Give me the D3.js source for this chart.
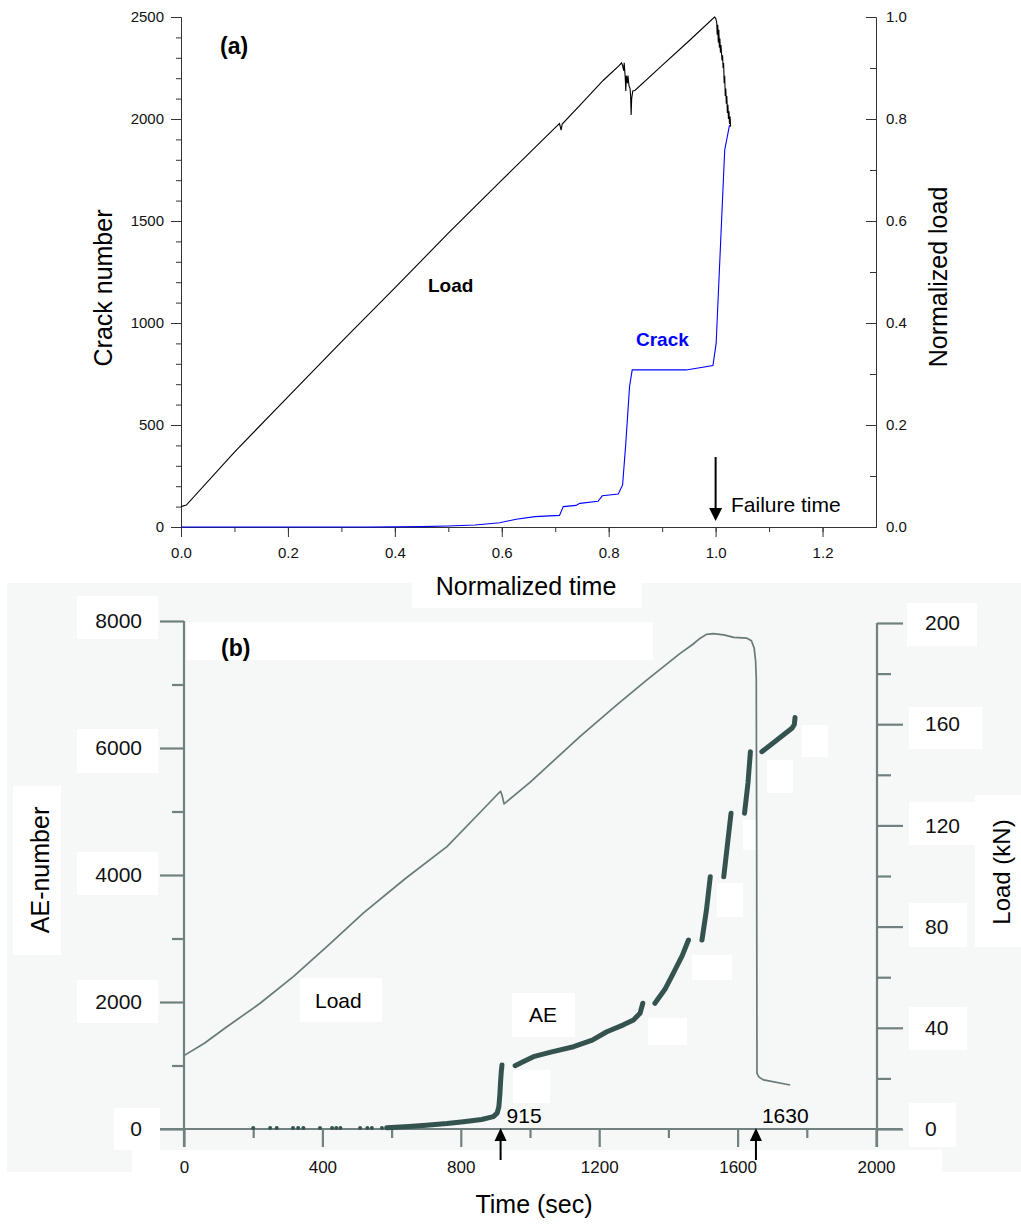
<!DOCTYPE html>
<html>
<head>
<meta charset="utf-8">
<script src="https://cdn.jsdelivr.net/npm/d3@7/dist/d3.min.js"></script>
<style>
  body { margin: 0; background: #fff; }
  svg { display: block; font-family: Arial, "Liberation Sans", sans-serif; }
</style>
</head>
<body>
<div id="chart"></div>
<script>
// ---- panel (a) data: normalized time vs normalized load / crack number ----
var loadA_t = [0, 0.01, 0.1, 0.2, 0.3, 0.4, 0.5, 0.6, 0.7, 0.708, 0.711, 0.713, 0.75, 0.79, 0.82, 0.824,
  0.826, 0.828, 0.829, 0.831, 0.832, 0.833, 0.835, 0.836, 0.838, 0.84, 0.841, 0.842, 0.843, 0.845, 0.849,
  0.9, 0.95, 0.998, 1.0, 1.002, 1.003, 1.004, 1.005, 1.006, 1.007, 1.008, 1.009, 1.01, 1.012, 1.013, 1.014,
  1.015, 1.016, 1.017, 1.018, 1.019, 1.02, 1.021, 1.022, 1.023, 1.024, 1.025, 1.026, 1.027, 1.028];
var loadA_v = [0.04, 0.043, 0.147, 0.255, 0.363, 0.469, 0.576, 0.68, 0.783, 0.791, 0.778, 0.79, 0.831, 0.876, 0.905, 0.91,
  0.905, 0.895, 0.91, 0.88, 0.855, 0.885, 0.87, 0.885, 0.865, 0.86, 0.845, 0.808, 0.84, 0.855, 0.856,
  0.905, 0.953, 1.0, 0.998, 0.99, 0.965, 0.985, 0.95, 0.975, 0.94, 0.958, 0.93, 0.945, 0.915, 0.925, 0.9,
  0.91, 0.87, 0.885, 0.845, 0.86, 0.83, 0.845, 0.812, 0.828, 0.8, 0.815, 0.79, 0.805, 0.785];
var crackA_t = [0, 0.35, 0.45, 0.5, 0.55, 0.596, 0.627, 0.662, 0.708, 0.715, 0.739, 0.746, 0.78, 0.788,
  0.818, 0.826, 0.832, 0.839, 0.844, 0.945, 0.995, 1.001, 1.017, 1.026];
var crackA_n = [0, 0, 2, 5, 10, 21, 38, 51, 57, 100, 106, 116, 126, 153,
  162, 206, 410, 688, 770, 770, 791, 900, 1848, 1970];
var xTicksA = [0, 0.2, 0.4, 0.6, 0.8, 1.0, 1.2];
var yTicksA = [0, 500, 1000, 1500, 2000, 2500];
var y2TicksA = [0, 0.2, 0.4, 0.6, 0.8, 1.0];

// ---- panel (b) data: time (sec) vs AE-number / load (kN) ----
var loadB_t = [0, 60, 120, 220, 316, 420, 518, 640, 760, 850, 909, 915, 919, 925, 933, 1000, 1145, 1250,
  1338, 1434, 1470, 1492, 1510, 1530, 1560, 1589, 1627, 1640, 1648, 1652, 1654, 1655, 1656, 1662, 1675, 1752];
var loadB_kN = [29, 34, 40, 49.7, 60.2, 73, 85.3, 99, 111.6, 124.3, 132.7, 133.5, 132, 128.5, 129.4, 137, 155.2, 167.5,
  177.5, 188, 191.5, 194, 195.5, 195.8, 195.3, 194.3, 194, 193, 190, 185, 178, 120, 22, 20.5, 19.4, 17.4];
var aeSegments = [
  [[586, 20], [650, 40], [700, 60], [760, 85], [808, 115], [860, 150], [894, 194], [905, 250], [910, 350], [913, 550], [915, 750], [917, 900], [919, 1008]],
  [[957, 997], [980, 1060], [1010, 1139], [1060, 1210], [1126, 1296], [1180, 1400], [1222, 1532], [1270, 1640], [1299, 1717], [1318, 1822], [1326, 1980]],
  [[1361, 1980], [1390, 2200], [1414, 2452], [1440, 2730], [1458, 2976]],
  [[1497, 2976], [1510, 3450], [1521, 3973]],
  [[1560, 3973], [1570, 4450], [1581, 4972]],
  [[1620, 4972], [1630, 5450], [1637, 5942]],
  [[1670, 5942], [1710, 6110], [1757, 6310], [1764, 6370], [1766, 6480]]
];
var aeDots = [200, 249, 268, 315, 330, 345, 393, 428, 440, 452, 509, 530, 543, 572];
var xTicksB = [0, 400, 800, 1200, 1600, 2000];
var yTicksB = [0, 2000, 4000, 6000, 8000];
var y2TicksB = [0, 40, 80, 120, 160, 200];
var arrowsB = [{t: 915, label: "915"}, {t: 1653, label: "1630"}];

var W = 1021, H = 1225;
var svg = d3.select("#chart").append("svg").attr("width", W).attr("height", H);
var fmtInt = d3.format("d");

// ================= panel (a) =================
var xA = d3.scaleLinear().domain([0, 1.3]).range([181, 876]);
var yA = d3.scaleLinear().domain([0, 2500]).range([527, 17]);
var yA2 = d3.scaleLinear().domain([0, 1]).range([527, 17]);
var axA = "#333";

function styleAxis(g, color, width, fs) {
  g.selectAll("path, line").attr("stroke", color).attr("stroke-width", width);
  g.selectAll("text").attr("fill", "#111").style("font-size", fs + "px").style("font-family", "Arial, 'Liberation Sans', sans-serif");
}

var gA = svg.append("g");
gA.append("g").attr("transform", "translate(181,0)")
  .call(d3.axisLeft(yA).tickValues(d3.range(0, 2501, 100)).tickSize(5).tickFormat("").tickSizeOuter(0))
  .call(g => styleAxis(g, axA, 1, 15));
gA.append("g").attr("transform", "translate(181,0)")
  .call(d3.axisLeft(yA).tickValues(yTicksA).tickSize(10).tickPadding(7).tickFormat(fmtInt).tickSizeOuter(0))
  .call(g => styleAxis(g, axA, 1, 15));
gA.append("g").attr("transform", "translate(0,527)")
  .call(d3.axisBottom(xA).tickValues(d3.range(0, 13).map(d => d / 10)).tickSize(5).tickFormat("").tickSizeOuter(0))
  .call(g => styleAxis(g, axA, 1, 15));
gA.append("g").attr("transform", "translate(0,527)")
  .call(d3.axisBottom(xA).tickValues(xTicksA).tickSize(10).tickPadding(10).tickFormat(d3.format(".1f")).tickSizeOuter(0))
  .call(g => styleAxis(g, axA, 1, 15));
gA.append("g").attr("transform", "translate(876,0)")
  .call(d3.axisRight(yA2).tickValues(d3.range(0, 11).map(d => d / 10)).tickSize(-6).tickFormat("").tickSizeOuter(0))
  .call(g => styleAxis(g, axA, 1, 15));
gA.append("g").attr("transform", "translate(876,0)")
  .call(d3.axisRight(yA2).tickValues(y2TicksA).tickSize(-10).tickPadding(10).tickFormat(d3.format(".1f")).tickSizeOuter(0))
  .call(g => styleAxis(g, axA, 1, 15));

var lineA = d3.line().x(d => xA(d[0])).y(d => yA2(d[1]));
gA.append("path").datum(loadA_t.map((t, i) => [t, loadA_v[i]]))
  .attr("d", lineA).attr("fill", "none").attr("stroke", "#000").attr("stroke-width", 1.1);
var crackLine = d3.line().x(d => xA(d[0])).y(d => yA(d[1]));
gA.append("path").datum(crackA_t.map((t, i) => [t, crackA_n[i]]))
  .attr("d", crackLine).attr("fill", "none").attr("stroke", "#0000ff").attr("stroke-width", 1.1);

gA.append("text").attr("x", 220).attr("y", 54).attr("font-weight", "bold").attr("font-size", 23).text("(a)");
gA.append("text").attr("x", 428).attr("y", 292).attr("font-weight", "bold").attr("font-size", 19).text("Load");
gA.append("text").attr("x", 636).attr("y", 346).attr("font-weight", "bold").attr("font-size", 19).attr("fill", "#0000ff").text("Crack");
gA.append("text").attr("x", 731).attr("y", 512).attr("font-size", 21).text("Failure time");
// failure arrow
var fx = xA(1.0);
gA.append("line").attr("x1", fx).attr("x2", fx).attr("y1", 457).attr("y2", 510).attr("stroke", "#000").attr("stroke-width", 2);
gA.append("path").attr("d", "M" + (fx - 6.5) + ",508L" + (fx + 6.5) + ",508L" + fx + ",521Z").attr("fill", "#000");

gA.append("text").attr("transform", "translate(112,288) rotate(-90)").attr("text-anchor", "middle")
  .attr("font-size", 25).text("Crack number");
gA.append("text").attr("transform", "translate(947,277) rotate(-90)").attr("text-anchor", "middle")
  .attr("font-size", 25).text("Normalized load");

// ================= panel (b) =================
var gB = svg.append("g");
// backdrop of the scanned figure
gB.append("rect").attr("x", 7).attr("y", 583).attr("width", W - 7).attr("height", 589).attr("fill", "#f6f7f7");
gB.append("rect").attr("x", 132).attr("y", 1150).attr("width", 810).attr("height", 75).attr("fill", "#fff");
gB.append("rect").attr("x", 412).attr("y", 580).attr("width", 230).attr("height", 28).attr("fill", "#fff");

// white label patches
var patches = [
  [77, 596, 81, 43], [77, 729, 81, 44], [77, 852, 81, 43], [77, 980, 81, 43], [114, 1108, 46, 42],
  [13, 786, 48, 169], [975, 795, 46, 152],
  [907, 603, 70, 43], [909, 707, 73, 42], [909, 802, 66, 43], [909, 903, 58, 44], [909, 1007, 58, 43], [909, 1103, 47, 44],
  [187, 622, 466, 38], [300, 978, 82, 44], [512, 993, 63, 44],
  [513, 1070, 37, 33], [648, 1018, 39, 27], [692, 955, 40, 25], [717, 883, 26, 34], [743, 820, 14, 30],
  [767, 760, 26, 33], [802, 725, 26, 32]
];
gB.selectAll("rect.patch").data(patches).join("rect").attr("class", "patch")
  .attr("x", d => d[0]).attr("y", d => d[1]).attr("width", d => d[2]).attr("height", d => d[3]).attr("fill", "#fff");

var xB = d3.scaleLinear().domain([0, 2000]).range([184, 876]);
var yB = d3.scaleLinear().domain([0, 8000]).range([1129, 621]);
var yB2 = d3.scaleLinear().domain([0, 200]).range([1129, 623]);
var axB = "#70817f";

// axis lines (they run a little past the origin)
gB.append("line").attr("x1", 184).attr("x2", 184).attr("y1", 621).attr("y2", 1147).attr("stroke", axB).attr("stroke-width", 2.2);
gB.append("line").attr("x1", 877).attr("x2", 877).attr("y1", 623).attr("y2", 1147).attr("stroke", axB).attr("stroke-width", 2.2);
gB.append("line").attr("x1", 160).attr("x2", 902).attr("y1", 1129).attr("y2", 1129).attr("stroke", axB).attr("stroke-width", 2.2);

function noDomain(g) { g.select(".domain").remove(); }
gB.append("g").attr("transform", "translate(184,0)")
  .call(d3.axisLeft(yB).tickValues([1000, 3000, 5000, 7000]).tickSize(12).tickFormat(""))
  .call(noDomain).call(g => styleAxis(g, axB, 2.2, 21));
gB.append("g").attr("transform", "translate(184,0)")
  .call(d3.axisLeft(yB).tickValues(yTicksB).tickSize(24).tickPadding(18).tickFormat(fmtInt))
  .call(noDomain).call(g => styleAxis(g, axB, 2.2, 21));
gB.append("g").attr("transform", "translate(877,0)")
  .call(d3.axisRight(yB2).tickValues([20, 60, 100, 140, 180]).tickSize(14).tickFormat(""))
  .call(noDomain).call(g => styleAxis(g, axB, 2.2, 21));
gB.append("g").attr("transform", "translate(877,0)")
  .call(d3.axisRight(yB2).tickValues(y2TicksB).tickSize(26).tickPadding(22).tickFormat(fmtInt))
  .call(noDomain).call(g => styleAxis(g, axB, 2.2, 21));
gB.append("g").attr("transform", "translate(0,1129)")
  .call(d3.axisBottom(xB).tickValues([200, 600, 1000, 1400, 1800]).tickSize(9).tickFormat(""))
  .call(noDomain).call(g => styleAxis(g, axB, 2.2, 17));
gB.append("g").attr("transform", "translate(0,1129)")
  .call(d3.axisBottom(xB).tickValues(xTicksB).tickSize(18).tickPadding(14).tickFormat(fmtInt))
  .call(noDomain).call(g => styleAxis(g, axB, 2.2, 17));

// load curve
gB.append("path").datum(loadB_t.map((t, i) => [t, loadB_kN[i]]))
  .attr("d", d3.line().x(d => xB(d[0])).y(d => yB2(d[1]))).attr("fill", "none")
  .attr("stroke", "#687a78").attr("stroke-width", 1.7).attr("stroke-linejoin", "round");

// AE curve
var aeColor = "#34534f";
var aeLine = d3.line().x(d => xB(d[0])).y(d => yB(d[1]));
gB.selectAll("path.ae").data(aeSegments).join("path").attr("class", "ae")
  .attr("d", aeLine).attr("fill", "none").attr("stroke", aeColor)
  .attr("stroke-width", 5).attr("stroke-linecap", "round").attr("stroke-linejoin", "round");
gB.selectAll("circle.aedot").data(aeDots).join("circle").attr("class", "aedot")
  .attr("cx", d => xB(d)).attr("cy", yB(0) - 1).attr("r", 2)
  .attr("fill", aeColor);

// arrows with times
arrowsB.forEach(function (a) {
  var ax = xB(a.t);
  gB.append("line").attr("x1", ax).attr("x2", ax).attr("y1", 1160).attr("y2", 1139).attr("stroke", "#000").attr("stroke-width", 2);
  gB.append("path").attr("d", "M" + (ax - 6) + ",1141L" + (ax + 6) + ",1141L" + ax + ",1128Z").attr("fill", "#000");
  gB.append("text").attr("x", ax + 6).attr("y", 1123).attr("font-size", 21).text(a.label);
});

gB.append("text").attr("x", 221).attr("y", 656).attr("font-weight", "bold").attr("font-size", 23).text("(b)");
gB.append("text").attr("x", 315).attr("y", 1008).attr("font-size", 21).text("Load");
gB.append("text").attr("x", 529).attr("y", 1022).attr("font-size", 21).text("AE");
gB.append("text").attr("transform", "translate(49,870) rotate(-90)").attr("text-anchor", "middle")
  .attr("font-size", 25).text("AE-number");
gB.append("text").attr("transform", "translate(1010,872) rotate(-90)").attr("text-anchor", "middle")
  .attr("font-size", 24).text("Load (kN)");
gB.append("text").attr("x", 534).attr("y", 1213).attr("text-anchor", "middle").attr("font-size", 25).text("Time (sec)");

// panel (a) x title sits on its own white patch over the backdrop
svg.append("text").attr("x", 526).attr("y", 595).attr("text-anchor", "middle").attr("font-size", 25).text("Normalized time");
</script>
</body>
</html>
